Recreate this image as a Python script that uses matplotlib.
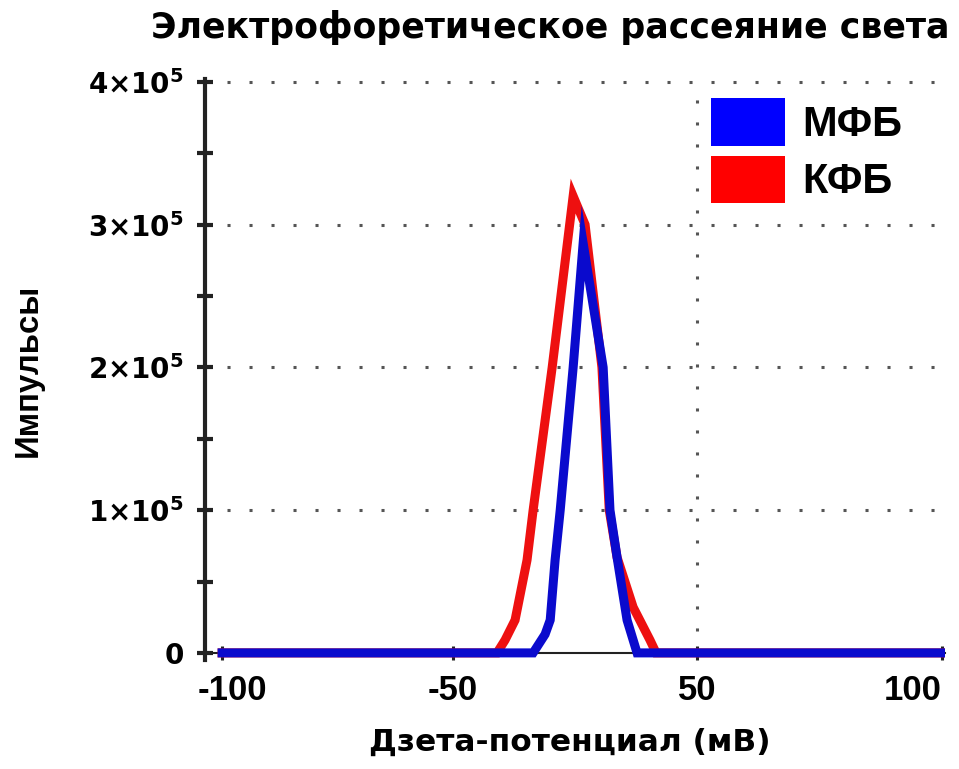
import numpy as np
import matplotlib
matplotlib.use("Agg")
import matplotlib.pyplot as plt
import matplotlib.transforms as mtransforms
from matplotlib.patches import Patch

plt.rcParams["font.family"] = ["Liberation Sans", "DejaVu Sans"]
plt.rcParams["font.weight"] = "bold"
plt.rcParams["mathtext.fontset"] = "custom"
plt.rcParams["mathtext.rm"] = "DejaVu Sans:bold"
plt.rcParams["mathtext.bf"] = "DejaVu Sans:bold"
plt.rcParams["mathtext.default"] = "rm"

# --- data -----------------------------------------------------------------
series_names = ["МФБ", "КФБ"]

# КФБ (red)
kfb_zeta = [-100, -32.0, -28.7, -24.6, -19.7, -17.2, -9.4, -0.8, 4.1,
            11.0, 14.0, 17.2, 23.8, 30.7, 33.2, 100]
kfb_counts = [0, 0, 0.09e5, 0.23e5, 0.65e5, 1.0e5, 2.0e5, 3.2e5, 3.0e5,
              2.0e5, 1.0e5, 0.67e5, 0.32e5, 0.09e5, 0, 0]

# МФБ (blue)
mfb_zeta = [-100, -17.2, -12.3, -10.2, -8.2, -6.1, -0.8, 3.3, 11.5, 14.3,
            17.2, 21.3, 25.4, 100]
mfb_counts = [0, 0, 0.13e5, 0.23e5, 0.65e5, 1.0e5, 2.0e5, 2.87e5, 2.0e5,
              1.0e5, 0.67e5, 0.23e5, 0, 0]

x_ticks = [-100, -50, 50, 100]
x_tick_labels = ["-100", "-50", "50", "100"]
y_ticks = [0, 1e5, 2e5, 3e5, 4e5]
y_tick_labels = ["0", "1×10$^5$", "2×10$^5$", "3×10$^5$", "4×10$^5$"]

title = "Электрофоретическое рассеяние света"
x_label = "Дзета-потенциал (мВ)"
y_label = "Импульсы"

blue = "#0a0acd"
red = "#ee1010"

# --- piecewise-linear zeta axis -------------------------------------------
_bp_data = [-200, -100, -50, 50, 100, 200]
_bp_disp = [-462, 0, 231, 475, 720, 1210]


def _fwd(x):
    return np.interp(x, _bp_data, _bp_disp)


def _inv(u):
    return np.interp(u, _bp_disp, _bp_data)


# --- figure ---------------------------------------------------------------
fig = plt.figure(figsize=(9.59, 7.69), dpi=100)
ax = fig.add_axes([0.2138, 0.1417, 0.7716, 0.7555])
ax.set_xscale("function", functions=(_fwd, _inv))
ax.set_xlim(-103.7, 100.6)
ax.set_ylim(-0.05e5, 4.02e5)

# dotted grid
dot = (0, (1, 6.2))
for yv in y_ticks[1:]:
    ax.plot([-103.7, 100.6], [yv, yv], color="#555555", lw=2.2,
            linestyle=dot, zorder=1)
ax.plot([50, 50], [0, 4e5], color="#555555", lw=2.2, linestyle=dot, zorder=1)

ax.plot(kfb_zeta, kfb_counts, color=red, lw=6.5, solid_joinstyle="miter",
        zorder=3)
ax.plot(mfb_zeta, mfb_counts, color=blue, lw=6.5, solid_joinstyle="miter",
        zorder=4)

# spines
for s in ("top", "right"):
    ax.spines[s].set_visible(False)
ax.spines["left"].set_linewidth(3)
ax.spines["left"].set_color("#222222")
ax.spines["bottom"].set_position(("data", 0))
ax.spines["bottom"].set_linewidth(1.5)
ax.spines["bottom"].set_color("#222222")

ax.set_xticks(x_ticks)
ax.set_xticklabels(x_tick_labels, fontsize=25, fontweight="bold",
                   family="Liberation Sans")
ax.tick_params(axis="x", direction="inout", length=10, width=2.2,
               color="#222222", pad=10)
xlabels = ax.get_xticklabels()
xlabels[0].set_transform(xlabels[0].get_transform() + mtransforms.ScaledTranslation(
    10 / 100, 0, fig.dpi_scale_trans))
xlabels[-1].set_transform(xlabels[-1].get_transform() + mtransforms.ScaledTranslation(
    -29 / 100, 0, fig.dpi_scale_trans))

ax.set_yticks(y_ticks)
ax.set_yticklabels(y_tick_labels, fontsize=20, fontweight="bold",
                   family="DejaVu Sans")
ax.set_yticks([0.5e5, 1.5e5, 2.5e5, 3.5e5], minor=True)
ax.tick_params(axis="y", which="both", direction="inout", length=12, width=3,
               color="#222222", pad=9)

fig.text(0.574, 0.964, title, ha="center", va="center", fontsize=25,
         fontweight="bold", family="DejaVu Sans")
fig.text(0.594, 0.035, x_label, ha="center", va="center", fontsize=22.5,
         fontweight="bold", family="DejaVu Sans")
fig.text(0.029, 0.518, y_label, ha="center", va="center", rotation=90,
         fontsize=23.8, fontweight="bold")

handles = [Patch(facecolor="#0000ff", edgecolor="none"),
           Patch(facecolor="#ff0000", edgecolor="none")]
fig.legend(handles, series_names, loc="upper left",
           bbox_to_anchor=(711 / 959, 1 - 98 / 769), frameon=False,
           prop={"weight": "bold", "size": 30, "family": "Liberation Sans"},
           handlelength=1.78, handleheight=1.38, handletextpad=0.4,
           labelspacing=0.24, borderpad=0, borderaxespad=0)

fig.savefig("out.png", dpi=100)
